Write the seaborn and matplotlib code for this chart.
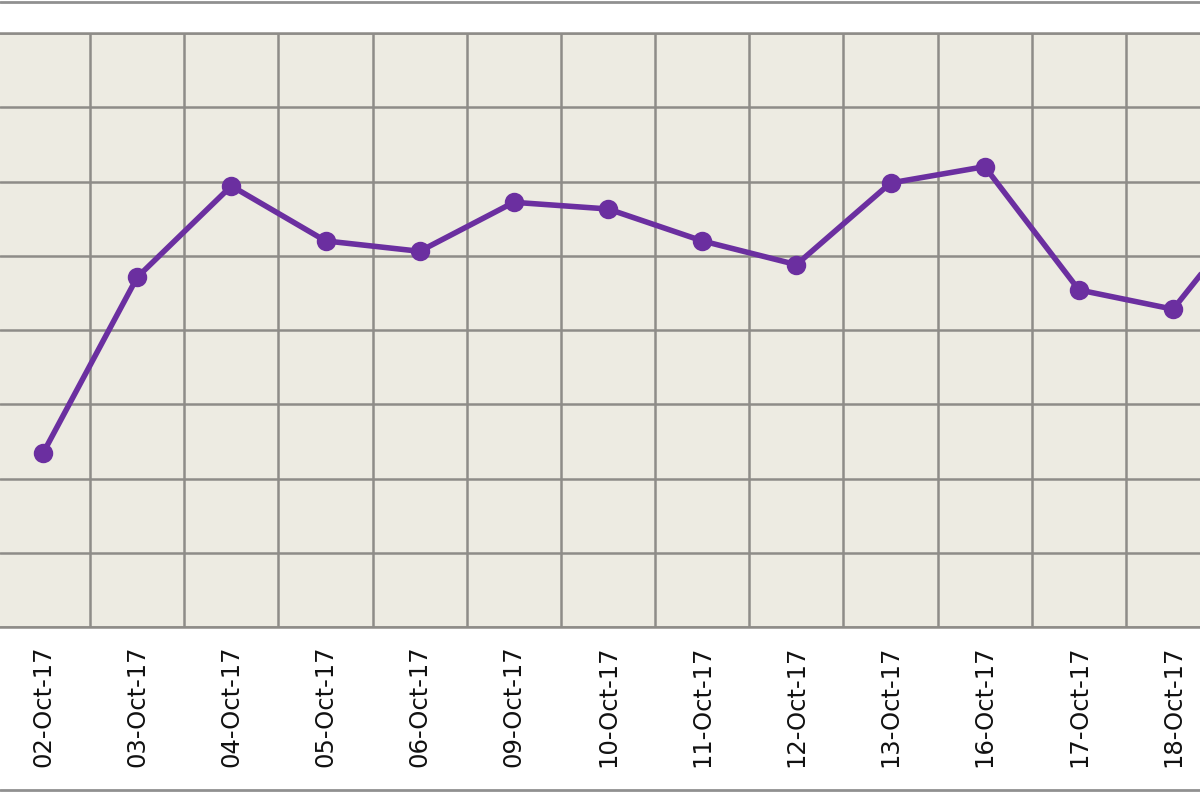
import matplotlib
matplotlib.use("Agg")
import matplotlib.pyplot as plt
from matplotlib.lines import Line2D
import seaborn as sns
import numpy as np
import pandas as pd

# daily values (y axis labels are cropped away, arbitrary units)
dates = ['02-Oct-17', '03-Oct-17', '04-Oct-17', '05-Oct-17', '06-Oct-17',
         '09-Oct-17', '10-Oct-17', '11-Oct-17', '12-Oct-17', '13-Oct-17',
         '16-Oct-17', '17-Oct-17', '18-Oct-17', '19-Oct-17']
values = [2.34, 4.71, 5.94, 5.20, 5.06, 5.72, 5.63, 5.20, 4.88, 5.98,
          6.20, 4.54, 4.28, 5.87]
y_ticks = [0, 1, 2, 3, 4, 5, 6, 7, 8]

df = pd.DataFrame({'date': dates, 'value': values})

sns.set_style("white")
plt.rcParams['font.family'] = ['DejaVu Sans']

fig = plt.figure(figsize=(12, 8), dpi=100)
ax = fig.add_axes([0, 0.21625, 1, 0.7425])

purple = '#6b2fa0'
grid_c = '#8e8c88'

sns.pointplot(data=df, x='date', y='value', color=purple, errorbar=None,
              markers='o', markersize=11, linewidth=4, ax=ax)

ax.set_facecolor('#edebe2')
ax.set_yticks(y_ticks)
ax.set_yticklabels([])
ax.set_xticks(np.arange(-0.5, len(dates), 1), minor=True)
# set limits after the ticks, set_xticks widens the view otherwise
ax.set_xlim(-0.4566, 12.286)
ax.set_ylim(0, 8)
ax.tick_params(axis='both', which='both', length=0)
ax.tick_params(axis='x', which='major', pad=13, labelsize=17.5, labelcolor='#111111')
plt.setp(ax.get_xticklabels(), rotation=90, va='top')
ax.grid(which='minor', axis='x', color=grid_c, linewidth=1.8)
ax.grid(which='major', axis='y', color=grid_c, linewidth=1.8)
ax.grid(which='major', axis='x', visible=False)
ax.set_axisbelow(True)
ax.set_xlabel('')
ax.set_ylabel('')
for s in ['left', 'right']:
    ax.spines[s].set_visible(False)
for s in ['top', 'bottom']:
    ax.spines[s].set_color(grid_c)
    ax.spines[s].set_linewidth(1.8)

# outer frame lines of the original image
fig.add_artist(Line2D([0, 1], [0.998, 0.998], color='#909090', linewidth=2))
fig.add_artist(Line2D([0, 1], [0.0125, 0.0125], color='#909090', linewidth=2))

fig.savefig('out.png', dpi=100, facecolor='white')
